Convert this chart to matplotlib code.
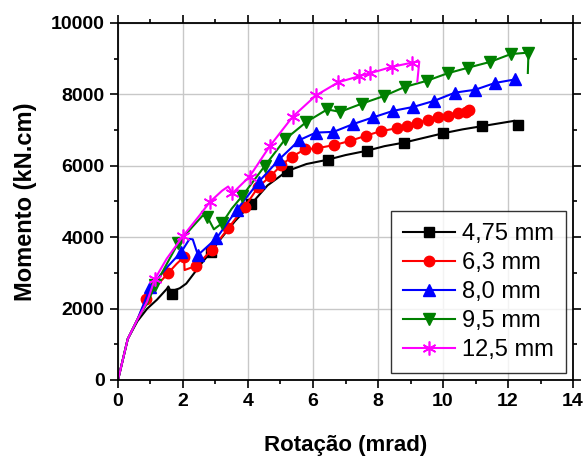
import numpy as np
import matplotlib
matplotlib.use("Agg")
import matplotlib.pyplot as plt
from matplotlib.ticker import MultipleLocator

# dados (rotação em mrad, momento em kN.cm)

rot_475 = [0, 0.3, 0.6, 0.9, 1.2, 1.5, 1.55, 1.65, 1.75, 1.9, 2.1, 2.35, 2.6, 2.85, 3.2, 3.6,
           4.1, 4.6, 5.2, 5.8, 6.45, 7.0, 7.65, 8.2, 8.8, 9.4, 10.0, 10.6, 11.2, 11.8, 12.2, 12.3]
mom_475 = [0, 1150, 1650, 2000, 2250, 2550, 2620, 2420, 2520, 2570, 2700, 3000, 3300, 3580, 4000, 4450,
           4930, 5450, 5850, 6050, 6170, 6300, 6420, 6550, 6650, 6780, 6910, 7020, 7110, 7200, 7260, 7130]
mk_475 = [7, 13, 16, 18, 20, 22, 24, 26, 28, 31]

rot_63 = [0, 0.3, 0.6, 0.87, 1.2, 1.55, 1.8, 2.03, 2.05, 2.41, 2.88, 3.39, 3.9, 4.31, 4.69, 5.03,
          5.34, 5.75, 6.11, 6.65, 7.15, 7.62, 8.08, 8.57, 8.88, 9.2, 9.54, 9.85, 10.16, 10.47, 10.7, 10.8]
mom_63 = [0, 1150, 1700, 2260, 2650, 3000, 3250, 3450, 3080, 3200, 3640, 4250, 4850, 5400, 5710, 6020,
          6250, 6460, 6490, 6580, 6700, 6840, 6970, 7050, 7120, 7200, 7290, 7360, 7400, 7470, 7520, 7550]
mk_63 = [3, 5, 7] + list(range(9, 32))

rot_80 = [0, 0.3, 0.6, 1.0, 1.5, 1.95, 2.2, 2.3, 2.46, 3.03, 3.65, 4.33, 4.96, 5.58, 6.09, 6.63,
          7.24, 7.86, 8.47, 9.09, 9.73, 10.37, 10.99, 11.6, 12.22]
mom_80 = [0, 1150, 1700, 2600, 3150, 3590, 3950, 3940, 3500, 3970, 4760, 5550, 6180, 6720, 6930, 6950,
          7170, 7360, 7540, 7650, 7820, 8050, 8130, 8320, 8420]
mk_80 = [3, 5] + list(range(8, 25))

rot_95 = [0, 0.3, 0.6, 0.9, 1.15, 1.5, 1.85, 2.3, 2.6, 2.75, 2.95, 3.2, 3.5, 3.82, 4.52, 5.14,
          5.8, 6.44, 6.83, 7.5, 8.17, 8.83, 9.5, 10.14, 10.78, 11.45, 12.09, 12.63, 12.61]
mom_95 = [0, 1150, 1700, 2150, 2660, 3250, 3830, 4300, 4600, 4570, 4220, 4390, 4800, 5150, 6000, 6740,
          7230, 7580, 7510, 7740, 7950, 8210, 8380, 8590, 8750, 8910, 9130, 9170, 8600]
mk_95 = [4, 6, 9, 11] + list(range(13, 28))

rot_125 = [0, 0.3, 0.6, 0.9, 1.13, 1.5, 2.0, 2.5, 2.83, 3.2, 3.39, 3.52, 4.05, 4.67, 5.37, 6.09,
           6.78, 7.42, 7.75, 8.42, 9.05, 9.27, 9.21]
mom_125 = [0, 1150, 1700, 2200, 2820, 3400, 4030, 4600, 4990, 5300, 5420, 5230, 5700, 6550, 7370, 7970,
           8340, 8510, 8590, 8770, 8890, 8920, 8360]
mk_125 = [4, 6, 8, 11, 12, 13, 14, 15, 16, 17, 18, 19, 20]

plt.rcParams['font.family'] = ['Liberation Sans', 'DejaVu Sans']

fig = plt.figure(figsize=(5.85, 4.57), dpi=100)
ax = fig.add_axes([0.2017, 0.1685, 0.7778, 0.7812])

ax.grid(True, color='#c8c8c8', lw=1.0, zorder=0)
ax.set_axisbelow(True)

ax.plot(rot_475, mom_475, color='black', lw=1.5, marker='s', ms=6.5, markevery=mk_475, label='4,75 mm')
ax.plot(rot_63, mom_63, color='#ff0000', lw=1.5, marker='o', ms=7.5, markevery=mk_63, label='6,3 mm')
ax.plot(rot_80, mom_80, color='#0000ff', lw=1.5, marker='^', ms=8, markevery=mk_80, label='8,0 mm')
ax.plot(rot_95, mom_95, color='#008000', lw=1.5, marker='v', ms=8, markevery=mk_95, label='9,5 mm')
ax.plot(rot_125, mom_125, color='#ff00ff', lw=1.5, marker=(6, 2, 0), ms=10, mew=1.2,
        markevery=mk_125, label='12,5 mm')

ax.set_xlim(0, 14)
ax.set_ylim(0, 10000)
ax.xaxis.set_major_locator(MultipleLocator(2))
ax.xaxis.set_minor_locator(MultipleLocator(1))
ax.yaxis.set_major_locator(MultipleLocator(2000))
ax.yaxis.set_minor_locator(MultipleLocator(1000))
ax.tick_params(which='both', direction='out', top=True, right=True, width=1.2)
ax.tick_params(which='major', length=6, labelsize=14)
ax.tick_params(which='minor', length=3)
for lab in ax.get_xticklabels() + ax.get_yticklabels():
    lab.set_fontweight('bold')
for s in ax.spines.values():
    s.set_linewidth(1.3)

ax.set_xlabel('Rotação (mrad)', fontsize=16, fontweight='bold', labelpad=18)
ax.set_ylabel('Momento (kN.cm)', fontsize=17, fontweight='bold', labelpad=10)

leg = ax.legend(loc='lower right', fontsize=17, frameon=True, fancybox=False, edgecolor='black',
                handlelength=2.2, handletextpad=0.3, labelspacing=0.3, borderaxespad=0.3,
                borderpad=0.5)
leg.get_frame().set_linewidth(1.0)

plt.savefig('out.png', dpi=100)
